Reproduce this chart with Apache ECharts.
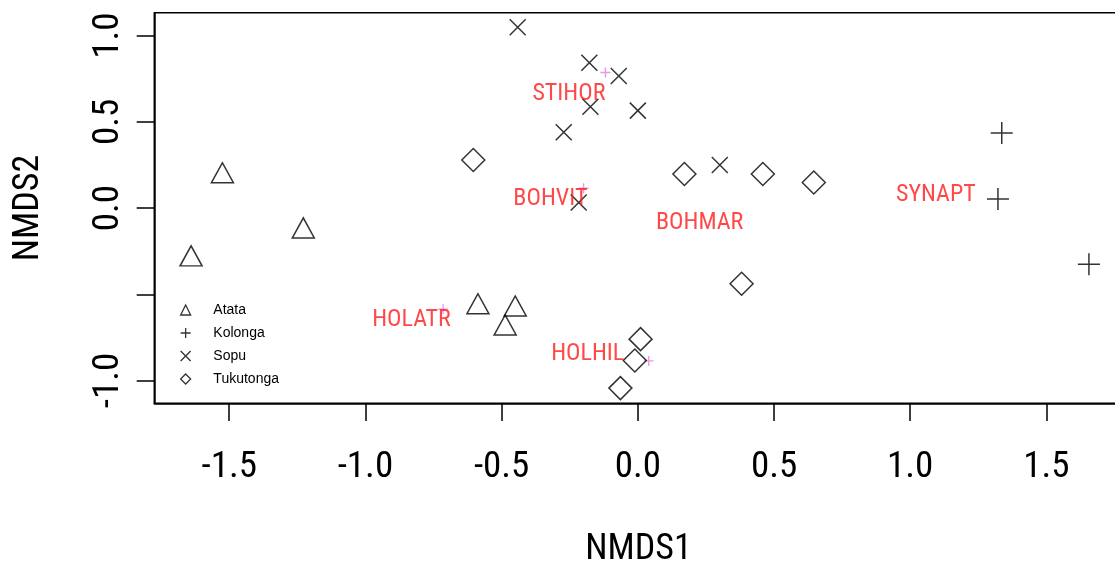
<!DOCTYPE html>
<html>
<head>
<meta charset="utf-8">
<script src="https://cdn.jsdelivr.net/npm/echarts@6/dist/echarts.min.js"></script>
<style>
html,body{margin:0;padding:0;background:#fff;}
#chart{width:1115px;height:565px;}
</style>
</head>
<body>
<div id="chart"></div>
<script>
// Site scores (NMDS1, NMDS2) per island group
const atataX = [-1.525, -1.640, -1.228, -0.587, -0.450, -0.487];
const atataY = [0.205, -0.277, -0.115, -0.555, -0.568, -0.678];
const kolongaX = [1.336, 1.322, 1.656];
const kolongaY = [0.436, 0.052, -0.325];
const sopuX = [-0.441, -0.178, -0.070, -0.174, 0.000, -0.272, -0.217, 0.301];
const sopuY = [1.049, 0.843, 0.766, 0.588, 0.565, 0.440, 0.032, 0.250];
const tukuX = [-0.604, 0.171, 0.459, 0.646, 0.381, 0.010, -0.011, -0.064];
const tukuY = [0.279, 0.198, 0.198, 0.148, -0.439, -0.760, -0.884, -1.044];

// Species labels and species points
const speciesNames = ['STIHOR', 'BOHVIT', 'BOHMAR', 'SYNAPT', 'HOLATR', 'HOLHIL'];
const speciesLabelX = [-0.253, -0.321, 0.227, 1.094, -0.831, -0.184];
const speciesLabelY = [0.661, 0.052, -0.085, 0.075, -0.648, -0.846];
const speciesPtX = [-0.119, -0.199, -0.715, 0.040];
const speciesPtY = [0.786, 0.115, -0.586, -0.886];

// Axes
const xTicks = [-1.5, -1.0, -0.5, 0.0, 0.5, 1.0, 1.5];
const yTicks = [-1.0, -0.5, 0.0, 0.5, 1.0];
const yTickLabels = [-1.0, 0.0, 0.5, 1.0];
const groups = ['Atata', 'Kolonga', 'Sopu', 'Tukutonga'];

const zip = (xs, ys) => xs.map((x, i) => [x, ys[i]]);
const NARROW = '"Roboto Condensed","Liberation Sans",sans-serif';

const plusPath = 'path://M0,-10L0,10M-10,0L10,0';
const crossPath = 'path://M-10,-10L10,10M-10,10L10,-10';
const markStyle = {color: 'transparent', borderColor: '#000', borderWidth: 1.5};

const chart = echarts.init(document.getElementById('chart'), null, {renderer: 'canvas'});
chart.setOption({
  animation: false,
  backgroundColor: '#fff',
  grid: {left: 154.3, top: 12.7, right: -7.7, bottom: 161.7, show: true,
         containLabel: false, outerBoundsMode: 'none',
         borderColor: '#000', borderWidth: 1.5, backgroundColor: 'transparent'},
  xAxis: {
    type: 'value', min: -1.775, max: 1.780,
    splitLine: {show: false},
    axisLine: {show: true, onZero: false, lineStyle: {color: '#000', width: 1.5}},
    axisTick: {show: true, inside: false, length: 17.6, customValues: xTicks,
               lineStyle: {color: '#000', width: 1.5}},
    axisLabel: {customValues: xTicks, margin: 46, color: '#000',
                fontFamily: NARROW, fontSize: 37, lineHeight: 37,
                formatter: v => v.toFixed(1)},
    name: 'NMDS1', nameLocation: 'middle', nameGap: 129,
    nameTextStyle: {fontFamily: NARROW, fontSize: 36, lineHeight: 36, color: '#000'}
  },
  yAxis: {
    type: 'value', min: -1.132, max: 1.133,
    splitLine: {show: false},
    axisLine: {show: true, onZero: false, lineStyle: {color: '#000', width: 1.5}},
    axisTick: {show: true, inside: false, length: 17.6, customValues: yTicks,
               lineStyle: {color: '#000', width: 1.5}},
    axisLabel: {customValues: yTickLabels, rotate: 90, margin: 27, color: '#000',
                fontFamily: NARROW, fontSize: 37, lineHeight: 37,
                formatter: v => v.toFixed(1)},
    name: 'NMDS2', nameLocation: 'middle', nameGap: 107,
    nameTextStyle: {fontFamily: NARROW, fontSize: 36, lineHeight: 36, color: '#000'}
  },
  legend: {
    data: groups, orient: 'vertical', left: 180, top: 303, padding: 0,
    itemWidth: 10, itemHeight: 10, itemGap: 9, selectedMode: false,
    itemStyle: {borderWidth: 1.3, borderColor: '#000', color: 'transparent'},
    textStyle: {fontFamily: '"Liberation Sans",Arial,sans-serif', fontSize: 14,
                lineHeight: 14, color: '#000', padding: [0, 0, 0, 17.7]}
  },
  series: [
    {name: 'speciesPts', type: 'scatter', silent: true, data: zip(speciesPtX, speciesPtY),
     symbol: plusPath, symbolSize: 10,
     itemStyle: {color: 'transparent', borderColor: '#e680e6', borderWidth: 1.4}},
    {name: 'speciesLabels', type: 'scatter', silent: true,
     data: speciesNames.map((n, i) => ({name: n, value: [speciesLabelX[i], speciesLabelY[i]]})),
     symbol: 'circle', symbolSize: 1, itemStyle: {color: 'transparent'},
     label: {show: true, position: 'inside', formatter: p => p.name, color: '#ff1a1a',
             fontFamily: NARROW, fontSize: 24}},
    {name: 'Atata', type: 'scatter', silent: true, data: zip(atataX, atataY),
     symbol: 'triangle', symbolSize: [22, 20], itemStyle: markStyle},
    {name: 'Kolonga', type: 'scatter', silent: true, data: zip(kolongaX, kolongaY),
     symbol: plusPath, symbolSize: 22, itemStyle: markStyle},
    {name: 'Sopu', type: 'scatter', silent: true, data: zip(sopuX, sopuY),
     symbol: crossPath, symbolSize: 16, itemStyle: markStyle},
    {name: 'Tukutonga', type: 'scatter', silent: true, data: zip(tukuX, tukuY),
     symbol: 'diamond', symbolSize: 23, itemStyle: markStyle}
  ]
});
</script>
</body>
</html>
